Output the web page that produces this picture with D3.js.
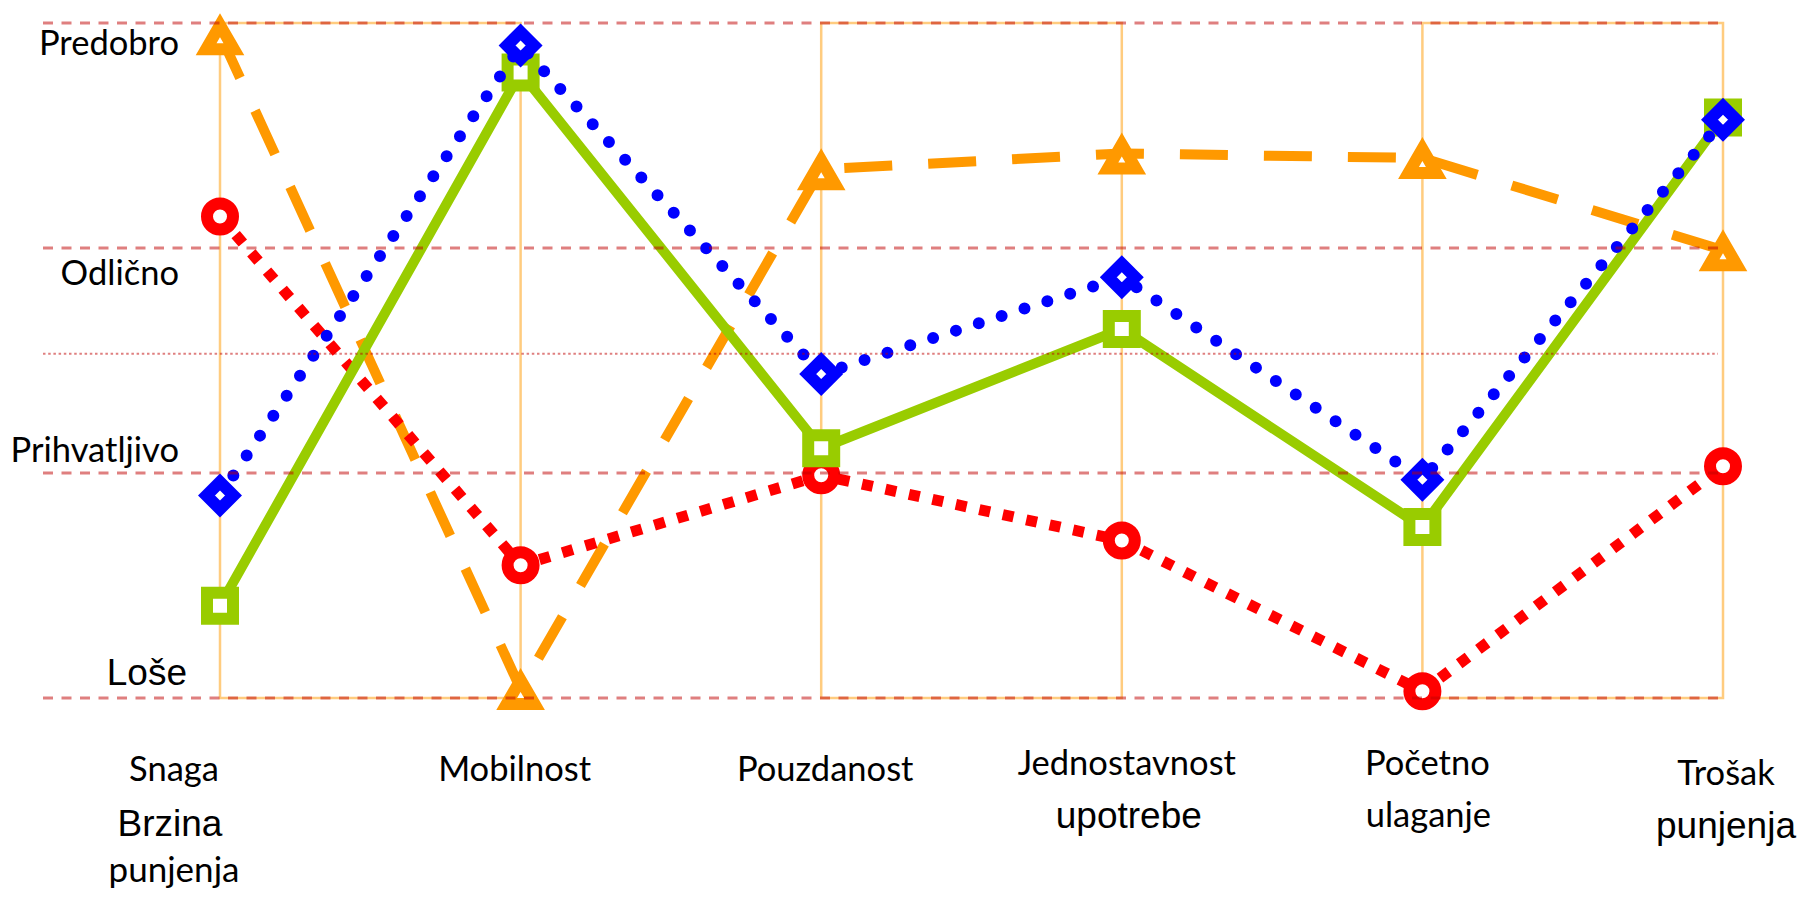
<!DOCTYPE html>
<html>
<head>
<meta charset="utf-8">
<script src="https://cdn.jsdelivr.net/npm/d3@7"></script>
<style>
  html, body { margin: 0; padding: 0; background: #ffffff; }
  svg { display: block; }
</style>
</head>
<body>
<svg id="chart" width="1802" height="898"></svg>
<script>
// Categories (x axis) and their label lines
const categories = ["Snaga", "Mobilnost", "Pouzdanost", "Jednostavnost upotrebe", "Početno ulaganje", "Trošak punjenja"];
const categoryLines = [
  ["Snaga", "Brzina", "punjenja"],
  ["Mobilnost"],
  ["Pouzdanost"],
  ["Jednostavnost", "upotrebe"],
  ["Početno", "ulaganje"],
  ["Trošak", "punjenja"]
];

// Rating levels (y axis)
const levelValues = [1, 2, 3, 4];
const levelLabels = ["Loše", "Prihvatljivo", "Odlično", "Predobro"];
const referenceLevel = 2.53;

// Series values, one per category
const seriesTriangle = [3.95, 1.04, 3.35, 3.42, 3.40, 2.99];
const seriesCircle   = [3.14, 1.59, 1.99, 1.70, 1.03, 2.03];
const seriesSquare   = [1.41, 3.78, 2.11, 2.64, 1.76, 3.58];
const seriesDiamond  = [1.90, 3.90, 2.44, 2.87, 1.97, 3.57];

// Category pairs framed by light boxes
const bandPairs = [[0, 1], [2, 3], [4, 5]];

const svg = d3.select("#chart");

const x = d3.scalePoint().domain(categories).range([220, 1723]);
const y = d3.scaleLinear().domain([1, 4]).range([698, 23]);

const calibriLike = "Lato, 'Open Sans', sans-serif";
const arialLike = "'Liberation Sans', Arial, sans-serif";

// Framing boxes behind the series
svg.append("g").selectAll("rect")
  .data(bandPairs)
  .join("rect")
  .attr("x", d => x(categories[d[0]]))
  .attr("y", y(4))
  .attr("width", d => x(categories[d[1]]) - x(categories[d[0]]))
  .attr("height", y(1) - y(4))
  .attr("fill", "none")
  .attr("stroke", "#ff9900")
  .attr("stroke-opacity", 0.5)
  .attr("stroke-width", 2.5);

// Series definitions
const series = [
  { values: seriesTriangle, color: "#ff9900", dash: "48,36", cap: "butt", marker: "triangle", width: 10 },
  { values: seriesCircle,   color: "#ff0000", dash: "11,13", cap: "butt", marker: "circle", width: 11 },
  { values: seriesSquare,   color: "#99cc00", dash: null,    cap: "butt", marker: "square", width: 10 },
  { values: seriesDiamond,  color: "#0000ff", dash: "0,24",  cap: "round", marker: "diamond", width: 12 }
];

const markerPaths = {
  triangle: "M0,-9L13.9,15L-13.9,15Z",
  diamond: "M0,-13.5L13.5,0L0,13.5L-13.5,0Z",
  square: "M-13,-13L13,-13L13,13L-13,13Z"
};

const line = d3.line()
  .x((d, i) => x(categories[i]))
  .y(d => y(d));

const seriesG = svg.append("g");
series.forEach(s => {
  const g = seriesG.append("g");
  g.append("path")
    .attr("d", line(s.values))
    .attr("fill", "none")
    .attr("stroke", s.color)
    .attr("stroke-width", s.width)
    .attr("stroke-dasharray", s.dash)
    .attr("stroke-linecap", s.cap)
    .attr("stroke-linejoin", "round");

  const m = g.selectAll(".mk")
    .data(s.values)
    .join("g")
    .attr("transform", (d, i) => `translate(${x(categories[i])},${y(d)})`);
  if (s.marker === "circle") {
    m.append("circle").attr("r", 13);
  } else {
    m.append("path").attr("d", markerPaths[s.marker]);
  }
  m.selectAll("circle, path")
    .attr("fill", "#ffffff")
    .attr("stroke", s.color)
    .attr("stroke-width", 12)
    .attr("stroke-linejoin", "miter");
});

// Horizontal rating lines drawn over the series
const gridG = svg.append("g");
gridG.selectAll("line.level")
  .data(levelValues)
  .join("line")
  .attr("class", "level")
  .attr("x1", 43).attr("x2", 1718)
  .attr("y1", d => y(d)).attr("y2", d => y(d))
  .attr("stroke", "#c00000")
  .attr("stroke-opacity", 0.5)
  .attr("stroke-width", 3)
  .attr("stroke-dasharray", "10,8.5");

gridG.append("line")
  .attr("x1", 43).attr("x2", 1718)
  .attr("y1", y(referenceLevel)).attr("y2", y(referenceLevel))
  .attr("stroke", "#c00000")
  .attr("stroke-opacity", 0.5)
  .attr("stroke-width", 2)
  .attr("stroke-dasharray", "2.5,2.7");

// Rating labels
const levelLayout = [
  { x: 187, dy: -13, font: arialLike, size: 37 },   // Loše
  { x: 179, dy: -11, font: calibriLike, size: 34.5 }, // Prihvatljivo
  { x: 179, dy: 37, font: calibriLike, size: 34.5 },  // Odlično
  { x: 179, dy: 32, font: calibriLike, size: 34.5 }   // Predobro
];
svg.append("g").selectAll("text")
  .data(levelLabels)
  .join("text")
  .attr("x", (d, i) => levelLayout[i].x)
  .attr("y", (d, i) => y(levelValues[i]) + levelLayout[i].dy)
  .attr("text-anchor", "end")
  .attr("font-family", (d, i) => levelLayout[i].font)
  .attr("font-size", (d, i) => levelLayout[i].size)
  .attr("fill", "#000000")
  .text(d => d);

// Category labels: per-line offsets and faces
const catLayout = [
  [{ dx: -46, y: 781, f: calibriLike, s: 34.5 }, { dx: -50, y: 836, f: arialLike, s: 37 }, { dx: -46, y: 882, f: calibriLike, s: 35 }],
  [{ dx: -6, y: 781, f: calibriLike, s: 34.5 }],
  [{ dx: 4, y: 781, f: calibriLike, s: 34.5 }],
  [{ dx: 5, y: 775, f: calibriLike, s: 34.5 }, { dx: 7, y: 828, f: arialLike, s: 37 }],
  [{ dx: 5, y: 775, f: calibriLike, s: 34.5 }, { dx: 6, y: 827, f: calibriLike, s: 34.5 }],
  [{ dx: 3, y: 785, f: calibriLike, s: 34.5 }, { dx: 3, y: 838, f: arialLike, s: 37 }]
];
const catG = svg.append("g");
categoryLines.forEach((lines, i) => {
  lines.forEach((txt, j) => {
    const L = catLayout[i][j];
    catG.append("text")
      .attr("x", x(categories[i]) + L.dx)
      .attr("y", L.y)
      .attr("text-anchor", "middle")
      .attr("font-family", L.f)
      .attr("font-size", L.s)
      .attr("fill", "#000000")
      .text(txt);
  });
});
</script>
</body>
</html>
